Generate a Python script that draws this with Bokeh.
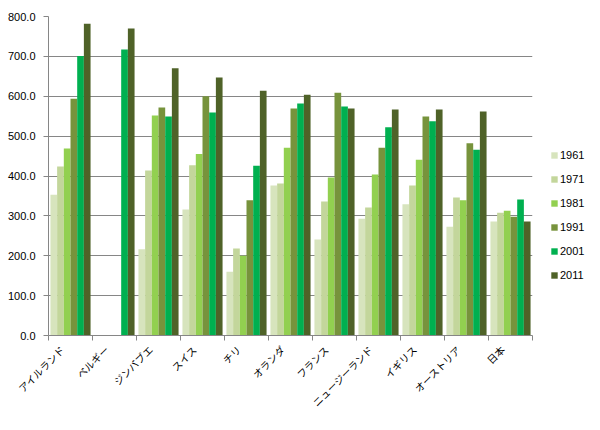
import math
from bokeh.plotting import figure
from bokeh.layouts import row
from bokeh.models import (FixedTicker, Legend, LegendItem, ColumnDataSource,
                          PrintfTickFormatter, Range1d)
from bokeh.embed import file_html
from bokeh.resources import INLINE

countries = ["アイルランド", "ベルギー", "ジンバブエ", "スイス", "チリ", "オランダ",
             "フランス", "ニュージーランド", "イギリス", "オーストリア", "日本"]
years = ["1961", "1971", "1981", "1991", "2001", "2011"]

v1961 = [353, None, 216, 316, 160, 376, 241, 293, 329, 273, 286]
v1971 = [424, None, 414, 427, 218, 381, 336, 321, 376, 346, 308]
v1981 = [469, None, 552, 455, 200, 471, 396, 404, 441, 339, 313]
v1991 = [594, None, 572, 600, 339, 569, 609, 471, 549, 482, 298]
v2001 = [701, 717, 549, 559, 426, 582, 574, 522, 537, 466, 341]
v2011 = [782, 770, 670, 647, 614, 604, 569, 567, 567, 562, 286]

series = [v1961, v1971, v1981, v1991, v2001, v2011]
colors = ["#d7e4bd", "#c3d69b", "#92d050", "#77933c", "#00b050", "#4f6228"]

n = len(countries)
bar_w = 0.152

p = figure(width=534, height=430, output_backend="svg", toolbar_location=None,
           x_range=Range1d(0, n), y_range=Range1d(0, 800),
           min_border_left=48, min_border_right=2, min_border_top=16,
           min_border_bottom=95)
p.outline_line_color = None
p.background_fill_color = "white"

# separate small figure holding only the legend (to the right of the plot area)
lf = figure(width=66, height=430, output_backend="svg", toolbar_location=None,
            x_range=Range1d(1000, 1001), y_range=Range1d(-1000, -999),
            min_border_left=0, min_border_right=0, min_border_top=0,
            min_border_bottom=0)
lf.outline_line_color = None
lf.axis.visible = False
lf.grid.visible = False

items = []
for j, (vals, col, yr) in enumerate(zip(series, colors, years)):
    xs = [i + 0.5 + (j - 2.5) * bar_w for i in range(n) if vals[i] is not None]
    tops = [v for v in vals if v is not None]
    src = ColumnDataSource(dict(x=xs, top=tops))
    p.vbar(x="x", top="top", width=bar_w, bottom=0, source=src,
           fill_color=col, line_color=None)
    r2 = lf.vbar(x="x", top="top", width=bar_w, bottom=0, source=src,
                 fill_color=col, line_color=None, visible=False)
    items.append(LegendItem(label=yr, renderers=[r2]))

# y axis
p.yaxis.ticker = FixedTicker(ticks=list(range(0, 801, 100)))
p.yaxis.formatter = PrintfTickFormatter(format="%.1f")
p.yaxis.axis_line_color = "#868686"
p.yaxis.major_tick_line_color = "#868686"
p.yaxis.major_tick_out = 5
p.yaxis.major_tick_in = 0
p.yaxis.minor_tick_line_color = None
p.yaxis.major_label_text_font = "Liberation Sans"
p.yaxis.major_label_text_font_size = "11px"
p.yaxis.major_label_text_color = "#000000"
p.yaxis.major_label_standoff = 8

# x axis: labels sit slightly left of each group's centre, ticks between groups
label_pos = [i + 0.32 for i in range(n)]
p.xaxis.ticker = FixedTicker(ticks=label_pos, minor_ticks=list(range(0, n + 1)))
p.xaxis.major_label_overrides = {c: name for c, name in zip(label_pos, countries)}
p.xaxis.major_tick_line_color = None
p.xaxis.minor_tick_line_color = "#868686"
p.xaxis.minor_tick_out = 5
p.xaxis.minor_tick_in = 0
p.xaxis.axis_line_color = "#868686"
p.xaxis.major_label_orientation = math.pi / 4
p.xaxis.major_label_text_font = "Noto Sans CJK JP"
p.xaxis.major_label_text_font_size = "10px"
p.xaxis.major_label_text_color = "#000000"
p.xaxis.major_label_standoff = 6

p.xgrid.grid_line_color = None
p.ygrid.grid_line_color = "#868686"
p.ygrid.ticker = FixedTicker(ticks=list(range(100, 801, 100)))

legend = Legend(items=items, location=(16, 53), orientation="vertical")
legend.click_policy = "none"
legend.border_line_color = None
legend.background_fill_alpha = 0
legend.padding = 0
legend.margin = 0
legend.glyph_width = 8
legend.glyph_height = 8
legend.label_height = 14
legend.spacing = 10
legend.label_standoff = 2
legend.label_text_font = "Liberation Sans"
legend.label_text_font_size = "11px"
legend.label_text_color = "#000000"
lf.add_layout(legend, "center")

layout = row(p, lf)
open("out.html", "w").write(file_html(layout, INLINE))
